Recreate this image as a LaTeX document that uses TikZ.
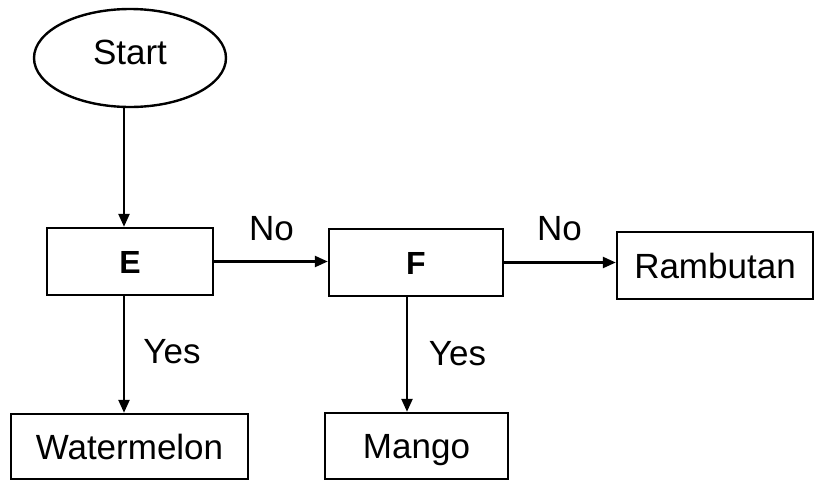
\documentclass[tikz,border=0pt]{standalone}
\usepackage{fontspec}
\setmainfont{Liberation Sans}
\usetikzlibrary{shapes.geometric,arrows.meta}
\tikzset{
  box/.style={draw=black, line width=2.4pt, rectangle, inner sep=0pt,
    minimum height=67pt, text height=25pt, text depth=0pt,
    font=\fontsize{35}{40}\selectfont},
  letterbox/.style={box, font=\fontsize{32}{38}\selectfont\bfseries, text height=23pt},
  oval/.style={draw=black, line width=2.4pt, ellipse, inner sep=0pt,
    minimum width=192pt, minimum height=98pt, text height=25pt, text depth=13pt,
    font=\fontsize{35}{40}\selectfont},
  lbl/.style={anchor=base, inner sep=0pt, font=\fontsize{35}{40}\selectfont},
  arr/.style={line width=2.4pt, -{Triangle[length=13pt,width=11pt]}}
}
\begin{document}
\begin{tikzpicture}[x=1pt,y=-1pt]
\useasboundingbox (0,0) rectangle (815,480);
\node[oval] (start) at (130,58) {Start};
\node[letterbox, minimum width=166pt] (E) at (130,261.5) {E};
\node[letterbox, minimum width=174pt] (F) at (416,262.5) {F};
\node[box, minimum width=196pt] (R) at (715,265.5) {Rambutan};
\node[box, minimum width=237pt, minimum height=65pt] (W) at (129.5,446.5) {Watermelon};
\node[box, minimum width=183pt, minimum height=66pt] (M) at (416.5,446) {Mango};
\draw[arr] ([xshift=-6pt]start.south) -- ([xshift=-6pt]E.north);
\draw[arr] ([xshift=-6pt]E.south) -- ([xshift=-6pt]E.south |- W.north);
\draw[arr] ([xshift=-9pt]F.south) -- ([xshift=-9pt]F.south |- M.north);
\draw[arr] (E.east) -- (E.east -| F.west);
\draw[arr] (F.east) -- (F.east -| R.west);
\node[lbl] (no1) at (271.5,240) {No};
\node[lbl] (no2) at (559.5,240) {No};
\node[lbl] (yes1) at (172,363) {Yes};
\node[lbl] (yes2) at (457.5,365) {Yes};
\end{tikzpicture}
\end{document}
